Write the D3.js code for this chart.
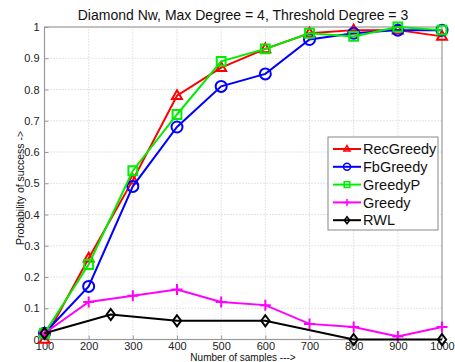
<!DOCTYPE html>
<html>
<head>
<meta charset="utf-8">
<script src="https://cdn.jsdelivr.net/npm/d3@7"></script>
<style>
  body { margin: 0; background: #fff; }
  svg { display: block; font-family: "Liberation Sans", Arial, sans-serif; }
</style>
</head>
<body>
<div id="chart"></div>
<script>
const xTicks = [100, 200, 300, 400, 500, 600, 700, 800, 900, 1000];
const yTicks = [0, 0.1, 0.2, 0.3, 0.4, 0.5, 0.6, 0.7, 0.8, 0.9, 1];

const samples = [100, 200, 300, 400, 500, 600, 700, 800, 900, 1000];
const recGreedy = [0.0, 0.26, 0.51, 0.78, 0.87, 0.93, 0.98, 0.99, 0.99, 0.97];
const fbGreedy = [0.02, 0.17, 0.49, 0.68, 0.81, 0.85, 0.96, 0.98, 0.99, 0.99];
const greedyP = [0.02, 0.24, 0.54, 0.72, 0.89, 0.93, 0.98, 0.97, 1.0, 0.99];
const greedy = [0.02, 0.12, 0.14, 0.16, 0.12, 0.11, 0.05, 0.04, 0.01, 0.04];
const rwlSamples = [100, 250, 400, 600, 800, 1000];
const rwl = [0.02, 0.08, 0.06, 0.06, 0.0, 0.0];

const seriesList = [
  { name: "RecGreedy", xs: samples, ys: recGreedy, color: "#ff0000", marker: "triangle" },
  { name: "FbGreedy", xs: samples, ys: fbGreedy, color: "#0000ff", marker: "circle" },
  { name: "GreedyP", xs: samples, ys: greedyP, color: "#00ee00", marker: "square" },
  { name: "Greedy", xs: samples, ys: greedy, color: "#ff00ff", marker: "plus" },
  { name: "RWL", xs: rwlSamples, ys: rwl, color: "#000000", marker: "diamond" }
];

const width = 455, height = 362;
const margin = { top: 27, right: 13, bottom: 22.5, left: 44.5 };

const svg = d3.select("#chart").append("svg")
  .attr("width", width)
  .attr("height", height);

const x = d3.scaleLinear().domain([100, 1000]).range([margin.left, width - margin.right]);
const y = d3.scaleLinear().domain([0, 1]).range([height - margin.bottom, margin.top]);

// grid
svg.append("g")
  .selectAll("line")
  .data(xTicks.slice(1, -1))
  .join("line")
  .attr("x1", d => x(d)).attr("x2", d => x(d))
  .attr("y1", y(0)).attr("y2", y(1))
  .attr("stroke", "#c8c8c8").attr("stroke-dasharray", "1,2");

svg.append("g")
  .selectAll("line")
  .data(yTicks.slice(1, -1))
  .join("line")
  .attr("x1", x(100)).attr("x2", x(1000))
  .attr("y1", d => y(d)).attr("y2", d => y(d))
  .attr("stroke", "#c8c8c8").attr("stroke-dasharray", "1,2");

// axes
const xAxis = d3.axisBottom(x).tickValues(xTicks).tickSize(-4).tickPadding(3).tickFormat(d3.format("d"));
const yAxis = d3.axisLeft(y).tickValues(yTicks).tickSize(-4).tickPadding(5).tickFormat(d => d === 0 || d === 1 ? d : d3.format(".1f")(d));

const gx = svg.append("g").attr("transform", `translate(0,${y(0)})`).call(xAxis);
const gy = svg.append("g").attr("transform", `translate(${x(100)},0)`).call(yAxis);
[gx, gy].forEach(g => {
  g.select(".domain").remove();
  g.selectAll(".tick line").attr("stroke", "#999");
  g.selectAll("text").attr("font-size", 11).attr("fill", "#222")
    .attr("font-family", "\"Liberation Sans\", Arial, sans-serif");
});
// box
svg.append("rect")
  .attr("x", x(100)).attr("y", y(1))
  .attr("width", x(1000) - x(100)).attr("height", y(0) - y(1))
  .attr("fill", "none").attr("stroke", "#999").attr("stroke-width", 1.2);

// marker path helper
function markerPath(type, s) {
  switch (type) {
    case "triangle": return `M0,${-s} L${s * 0.9},${s * 0.6} L${-s * 0.9},${s * 0.6} Z`;
    case "circle": return d3.symbol().type(d3.symbolCircle).size(Math.PI * s * s)();
    case "square": return `M${-s * 0.8},${-s * 0.8} H${s * 0.8} V${s * 0.8} H${-s * 0.8} Z`;
    case "plus": return `M${-s},0 H${s} M0,${-s} V${s}`;
    case "diamond": return `M0,${-s} L${s * 0.75},0 L0,${s} L${-s * 0.75},0 Z`;
  }
}

const line = d3.line().x(d => x(d[0])).y(d => y(d[1]));

seriesList.forEach(s => {
  const pts = s.xs.map((v, i) => [v, s.ys[i]]);
  const g = svg.append("g");
  g.append("path").datum(pts)
    .attr("d", line)
    .attr("fill", "none").attr("stroke", s.color).attr("stroke-width", 2);
  g.selectAll("path.m").data(pts).join("path")
    .attr("class", "m")
    .attr("transform", d => `translate(${x(d[0])},${y(d[1])})`)
    .attr("d", markerPath(s.marker, 5.5))
    .attr("fill", "none").attr("stroke", s.color).attr("stroke-width", 2);
});

// legend
const lg = svg.append("g").attr("transform", "translate(328,137)");
lg.append("rect").attr("width", 110).attr("height", 93)
  .attr("fill", "#fff").attr("stroke", "#888").attr("stroke-width", 1);
seriesList.forEach((s, i) => {
  const ly = 12 + i * 17.8;
  lg.append("line").attr("x1", 5).attr("x2", 33).attr("y1", ly).attr("y2", ly)
    .attr("stroke", s.color).attr("stroke-width", 2);
  lg.append("path").attr("transform", `translate(19,${ly})`)
    .attr("d", markerPath(s.marker, 3.5))
    .attr("fill", "none").attr("stroke", s.color).attr("stroke-width", 1.5);
  lg.append("text").attr("x", 35).attr("y", ly).attr("dy", "0.36em")
    .attr("font-size", 14.5).attr("fill", "#111").text(s.name);
});

// title and labels
svg.append("text").attr("x", 243).attr("y", 20)
  .attr("text-anchor", "middle").attr("font-size", 14).attr("fill", "#111")
  .text("Diamond Nw, Max Degree = 4, Threshold Degree = 3");
svg.append("text").attr("x", 243).attr("y", 361)
  .attr("text-anchor", "middle").attr("font-size", 10).attr("fill", "#111")
  .text("Number of samples --->");
svg.append("text").attr("transform", "translate(24,188) rotate(-90)")
  .attr("text-anchor", "middle").attr("font-size", 10.5).attr("fill", "#111")
  .text("Probability of success ->");
</script>
</body>
</html>
